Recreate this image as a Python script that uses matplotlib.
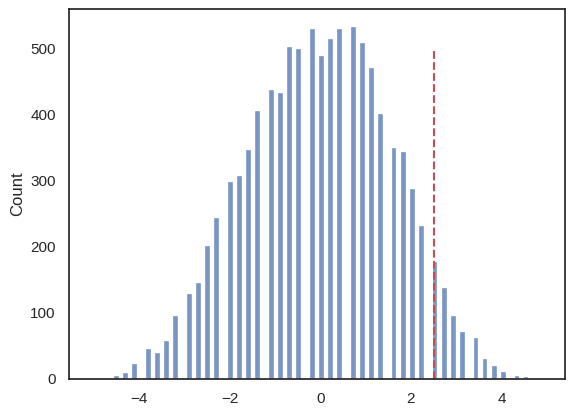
import matplotlib
matplotlib.use("Agg")
import matplotlib.pyplot as plt
import seaborn as sns

# bin centres (bin width ~0.1) and counts
bin_centers = [-4.492, -4.291, -4.090, -3.789, -3.588, -3.388, -3.187, -2.886,
               -2.685, -2.484, -2.283, -1.982, -1.781, -1.580, -1.380, -1.078,
               -0.878, -0.677, -0.476, -0.175, 0.026, 0.227, 0.428, 0.729,
               0.930, 1.130, 1.331, 1.632, 1.833, 2.034, 2.235, 2.536,
               2.737, 2.938, 3.138, 3.440, 3.640, 3.841, 4.042, 4.343, 4.544]
counts = [5, 9, 22, 46, 39, 57, 96, 128, 146, 201, 243, 298, 307, 346, 405, 437,
          433, 502, 499, 530, 489, 515, 530, 533, 509, 471, 401, 350, 344, 288,
          232, 177, 137, 96, 71, 62, 30, 19, 10, 4, 3]
bin_width = 0.1004

threshold = 2.5
line_top = 500

sns.set_theme(style="white")
plt.rcParams["font.family"] = ["Liberation Sans", "DejaVu Sans"]

fig = plt.figure(figsize=(5.75, 4.16), dpi=100)
ax = fig.add_axes([69 / 575, 37 / 416, 496 / 575, 370 / 416])

ax.bar(bin_centers, counts, width=bin_width, color="#4c72b0", alpha=0.75,
       edgecolor="white", linewidth=0.33)
ax.vlines(threshold, 0, line_top, colors="#c44e52", linestyles="--", linewidth=1.5)

ax.set_xlim(-5.54, 5.40)
ax.set_ylim(0, 560)
ax.set_xticks([-4, -2, 0, 2, 4])
ax.set_yticks([0, 100, 200, 300, 400, 500])
ax.set_ylabel("Count")

fig.savefig("out.png", dpi=100)
